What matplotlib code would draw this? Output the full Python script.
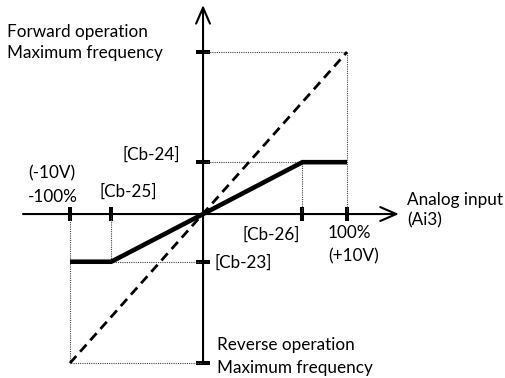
"""Analog input (Ai3) -> output frequency characteristic, schematic."""
import matplotlib
matplotlib.use("Agg")
import matplotlib.pyplot as plt
import numpy as np

# --- data (percent of full scale) ---
full_in = [-100, 100]            # -100% (-10V) ... 100% (+10V)
full_out = [-100, 100]           # reverse / forward maximum frequency
cb_in = [-100, -69, 0, 69, 100]  # [Cb-25] ... [Cb-26]
cb_out = [-32, -32, 0, 32, 32]   # [Cb-23] ... [Cb-24]
x_ticks = [-100, -69, 69, 100]
y_ticks = [-100, -32, 32, 100]

W, H = 506, 378
FONT = ["Lato", "DejaVu Sans"]


def squeeze(k):
    # the drawing is a little tighter on the negative side
    fwd = lambda v: np.where(np.asarray(v) < 0, np.asarray(v) * k, v)
    inv = lambda v: np.where(np.asarray(v) < 0, np.asarray(v) / k, v)
    return fwd, inv


def main():
    fig = plt.figure(figsize=(W / 100, H / 100), dpi=100)
    ax = fig.add_axes([0, 0, 1, 1])
    ax.set_xscale("function", functions=squeeze(0.924))
    ax.set_yscale("function", functions=squeeze(0.92))
    ax.set_xlim(-152.6, 210.4)
    ax.set_ylim(-110.0, 132.1)

    for s in ax.spines.values():
        s.set_color("none")
    ax.spines["left"].set_position(("data", 0))
    ax.spines["bottom"].set_position(("data", 0))
    ax.set_xticks(x_ticks)
    ax.set_yticks(y_ticks)
    ax.set_xticklabels([])
    ax.set_yticklabels([])
    ax.tick_params(direction="inout", length=10, width=2.9, color="black")

    # axes with open arrowheads
    arrow = dict(arrowstyle="->,head_length=1.15,head_width=0.5", lw=1.5,
                 color="black", shrinkA=0, shrinkB=0, mutation_scale=10)
    ax.annotate("", xy=(136, 0), xytext=(-135.3, 0), arrowprops=arrow)
    ax.annotate("", xy=(0, 129), xytext=(0, full_out[0]), arrowprops=arrow)

    # dotted guide lines
    dot = dict(color="#444444", lw=0.8, ls=(0, (1, 1)))
    ax.plot([0, full_in[1], full_in[1]], [full_out[1], full_out[1], 0], **dot)
    ax.plot([0, full_in[0], full_in[0]], [full_out[0], full_out[0], 0], **dot)
    ax.plot([0, cb_in[3], cb_in[3]], [cb_out[3], cb_out[3], 0], **dot)
    ax.plot([0, cb_in[1], cb_in[1]], [cb_out[1], cb_out[1], 0], **dot)

    # full-range characteristic (dashed) and Cb-23..26 characteristic (thick)
    ax.plot(full_in, full_out, color="black", lw=2.0, ls=(0, (3.4, 2.1)))
    ax.plot(cb_in, cb_out, color="black", lw=3.3, solid_capstyle="butt",
            solid_joinstyle="miter")

    labels = [
        ("Forward operation", 7, 32),
        ("Maximum frequency", 7, 53),
        ("[Cb-24]", 123, 155),
        ("(-10V)", 28, 173),
        ("-100%", 28, 197),
        ("[Cb-25]", 100, 192),
        ("Analog input", 407, 200),
        ("(Ai3)", 407, 220),
        ("[Cb-26]", 243, 235),
        ("100%", 328, 233),
        ("(+10V)", 328, 256),
        ("[Cb-23]", 215, 263),
        ("Reverse operation", 217, 345),
        ("Maximum frequency", 217, 368),
    ]
    for s, x, y in labels:
        fig.text(x / W, 1 - y / H, s, ha="left", va="center",
                 fontsize=12.3, family=FONT, color="black")

    fig.savefig("out.png", dpi=100)


if __name__ == "__main__":
    main()
